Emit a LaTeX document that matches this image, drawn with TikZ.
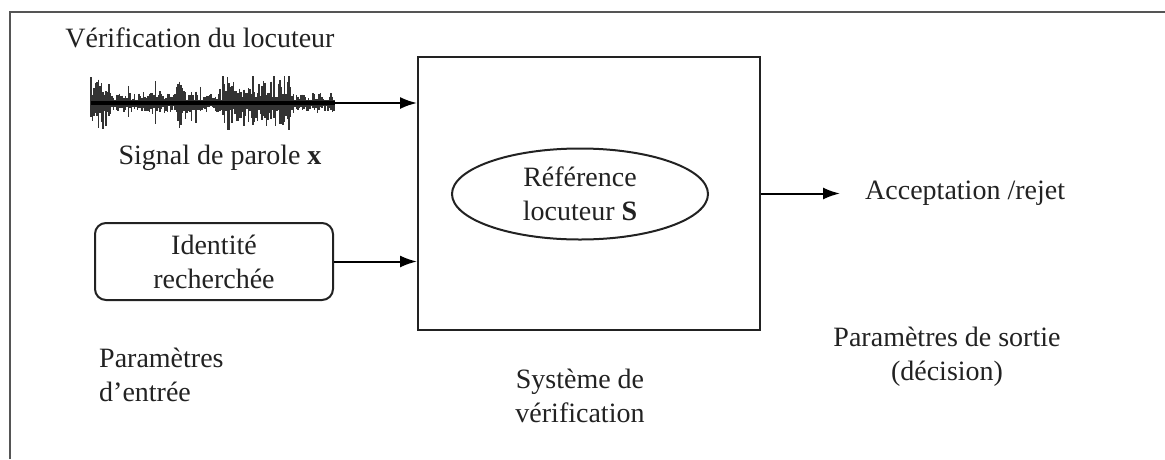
\documentclass[tikz,border=0pt]{standalone}
\usepackage{fontspec}
\setmainfont{Liberation Serif}
\usetikzlibrary{arrows.meta,shapes.geometric}
\definecolor{ink}{HTML}{222222}
\definecolor{framecol}{HTML}{555555}
\tikzset{
  frameline/.style={draw=framecol,line width=2.2pt},
  boxline/.style={draw=ink,line width=2pt},
  arr/.style={draw=black,line width=2pt,-{Latex[length=17pt,width=12pt]}},
  lbl/.style={text=ink,align=center,inner sep=0pt},
  wave/.style={line width=1.6pt,draw=black,opacity=0.8}
}
\begin{document}
\begin{tikzpicture}[x=1pt,y=-1pt,font=\fontsize{28}{34}\selectfont]
\useasboundingbox (0,0) rectangle (1165,459);
\fill[white] (0,0) rectangle (1165,459);
\draw[frameline] (10,459) -- (10,12) -- (1165,12);

% title and labels
\node[lbl] (title) at (200,38) {Vérification du locuteur};
\node[lbl] (signal) at (220,158) {Signal de parole \textbf{x}};
\node[lbl,anchor=west,align=left] (pin) at (99,375) {Paramètres\\d'entrée};
\node[lbl] (psys) at (580,396) {Système de\\vérification};
\node[lbl] (pout) at (947,357) {Paramètres de sortie\\(décision)};
\node[lbl,anchor=west] (acc) at (865,193) {Acceptation /rejet};

% main box and ellipse
\node[boxline,minimum width=342pt,minimum height=273pt,inner sep=0pt] (sys) at (589,193.5) {};
\node[boxline,ellipse,minimum width=256pt,minimum height=91pt,inner sep=0pt,text=ink,align=center] (ref) at (580,194) {Référence\\locuteur \textbf{S}};

% identity box
\node[boxline,rounded corners=11pt,minimum width=238pt,minimum height=77pt,inner sep=0pt,text=ink,align=center] (id) at (214,261.5) {Identité\\recherchée};

% waveform
\pgfmathsetseed{11}
\foreach \i in {0,...,162}{
  \pgfmathsetmacro{\xx}{91+1.5*\i}
  \pgfmathsetmacro{\amp}{\xx<112 ? 27 : (\xx<175 ? 11 : (\xx<186 ? 25 : (\xx<222 ? 10 : (\xx<292 ? 23 : 10))))}
  \pgfmathsetmacro{\sp}{rnd>0.88 ? 2.0 : 1.0}
  \pgfmathsetmacro{\hu}{min(27,\sp*\amp*(0.25+0.75*rnd))}
  \pgfmathsetmacro{\hd}{min(27,\sp*\amp*(0.25+0.75*rnd))}
  \draw[wave] (\xx,103-\hu) -- (\xx,103+\hd);
}
\coordinate (wavend) at (335,103);
\draw[black,line width=4pt] (91,103) -- (wavend);

% connectors
\draw[arr] (wavend) -- (wavend -| sys.west);
\draw[arr] (id.east) -- (id.east -| sys.west);
\draw[arr,shorten >=25pt] (sys.east) -- (sys.east -| acc.west);
\end{tikzpicture}
\end{document}
